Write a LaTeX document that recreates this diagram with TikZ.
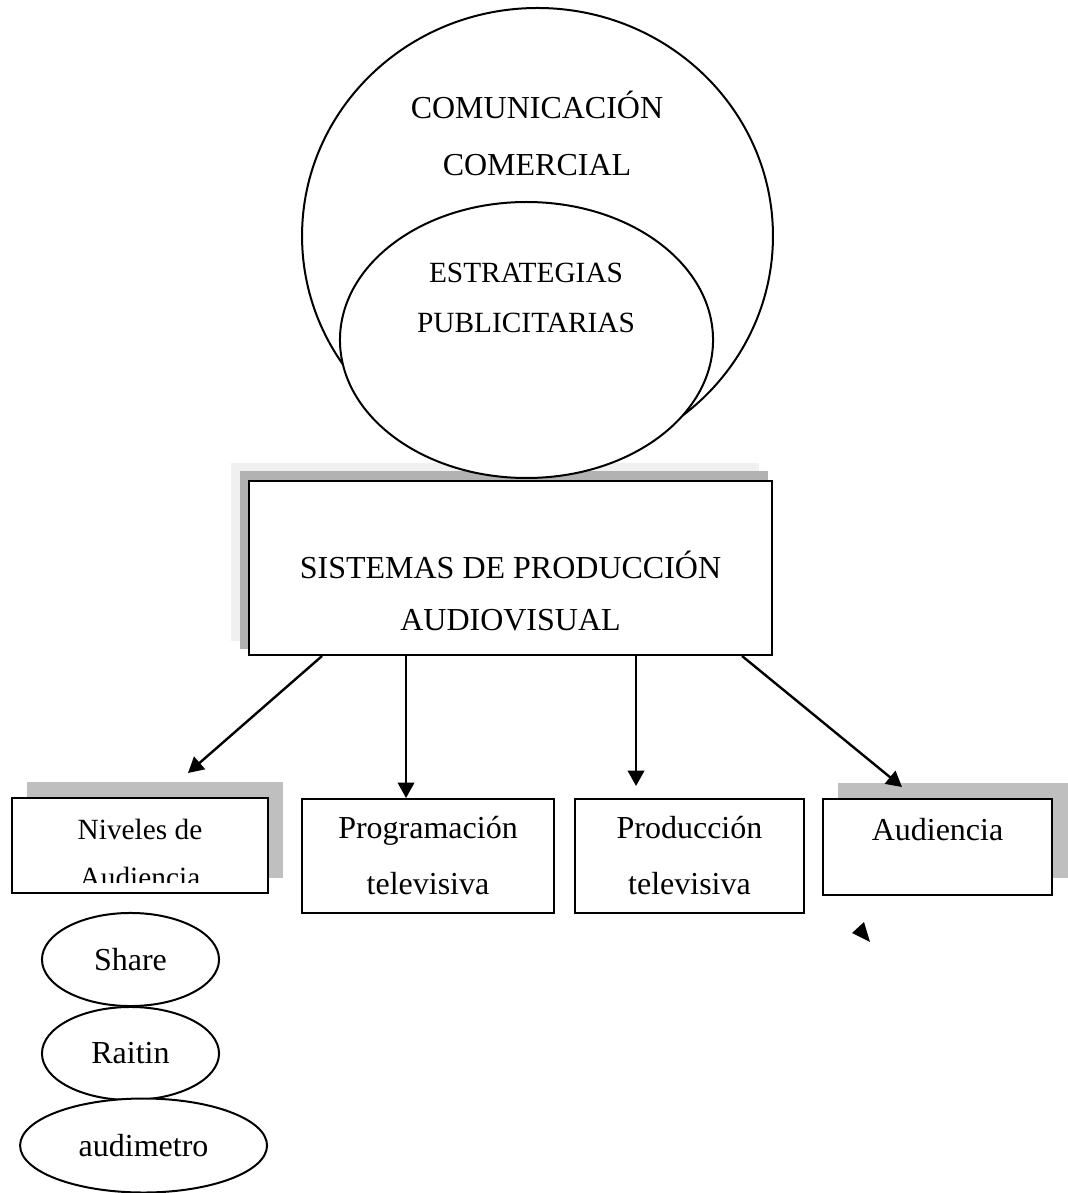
\documentclass[tikz,border=0pt]{standalone}
\usepackage{fontspec}
\setmainfont{Liberation Serif}
\usetikzlibrary{positioning,shapes.geometric,arrows.meta,calc}
\definecolor{shadelight}{gray}{0.94}
\definecolor{shadedark}{gray}{0.70}
\definecolor{shadebox}{gray}{0.75}

\begin{document}
\begin{tikzpicture}[x=0.375pt, y=-0.375pt, node distance=35.25pt]
    % Style definition for boxes, ellipses and texts
    \tikzset{box/.style={rectangle, draw=black, line width=0.75pt, fill=white, inner sep=0pt},
             oval/.style={ellipse, draw=black, line width=0.75pt, fill=white, inner sep=0pt,
             font=\fontsize{12}{14}\selectfont},
             txt/.style={align=center, inner sep=0pt, font=\fontsize{12}{21}\selectfont}}
    \tikzstyle{arrow} = [line width=0.9pt,-{Triangle[length=5.8pt,width=6.2pt]}]

    \useasboundingbox (0,0) rectangle (1068,1193);

    % Shadows behind the boxes
    \fill [shadelight] (231,463) rectangle (759,641);
    \fill [shadedark] (240,471) rectangle (768,649);
    \fill [shadebox] (27,782) rectangle (283,878);
    \fill [shadebox] (838,783) rectangle (1068,878);

    % Circles at the top
    \node (circ) [oval, minimum width=176.6pt, minimum height=171pt] at (537.5,236) {};
    \node (estr) [oval, minimum width=139.9pt, minimum height=103.5pt] at (526.5,340) {};
    \node (circtxt) [txt, font=\fontsize{12}{21.4}\selectfont] at (537,133) {COMUNICACIÓN\\COMERCIAL};
    \node (estrtxt) [txt, font=\fontsize{11}{18.75}\selectfont] at (526,298) {ESTRATEGIAS\\PUBLICITARIAS};

    % Main box
    \node (sist) [box, minimum width=196.1pt, minimum height=65.25pt] at (510.5,568) {};
    \node (sisttxt) [txt, font=\fontsize{12}{19.5}\selectfont] at (510.5,591) {SISTEMAS DE PRODUCCIÓN\\AUDIOVISUAL};

    % Lower boxes
    \node (niv) [box, minimum width=96pt, minimum height=35.6pt] at (140,845.5) {};
    \begin{scope}
        \clip (niv.north west) rectangle ($(niv.south east)+(0,-11)$);
        \node (nivtxt) [txt, font=\fontsize{11}{18}\selectfont] at (140,853) {Niveles de\\Audiencia};
    \end{scope}
    \node (prog) [box, txt, minimum width=94.5pt, minimum height=42.75pt] at (428,856) {Programación\\televisiva};
    \node (prod) [box, txt, minimum width=85.9pt, minimum height=42.75pt, right=7.1pt of prog] {Producción\\televisiva};
    \node (aud) [box, minimum width=85.9pt, minimum height=36pt] at (937.5,847) {};
    \node (audtxt) [txt] at (937.5,830) {Audiencia};

    % Ellipses under Niveles de Audiencia
    \node (share) [oval, minimum width=66.4pt, minimum height=34.9pt] at (130.5,959.5) {Share};
    \node (raitin) [oval, minimum width=66.4pt, minimum height=34.9pt, below of=share] {Raitin};
    \node (audim) [oval, minimum width=92.6pt, minimum height=35.25pt, below of=raitin, xshift=4.9pt, yshift=0.75pt] {audimetro};

    % Arrows from the main box
    \coordinate (out1) at ($(sist.south west)+(74,0)$);
    \coordinate (out2) at ($(sist.south west)+(158,0)$);
    \coordinate (out3) at ($(sist.south west)+(388,0)$);
    \coordinate (out4) at ($(sist.south west)+(494,0)$);
    \coordinate (tip1) at (188,773);
    \coordinate (tip4) at (902,787);
    \draw [arrow] (out1) -- (tip1);
    \draw [arrow] (out2) -- (out2 |- prog.north);
    \draw [arrow, shorten >=4.5pt] (out3) -- (out3 |- prod.north);
    \draw [arrow] (out4) -- (tip4);

    % Loose arrowhead under Audiencia
    \fill (852,933) -- (864,922) -- (870,942) -- cycle;

\end{tikzpicture}
\end{document}
